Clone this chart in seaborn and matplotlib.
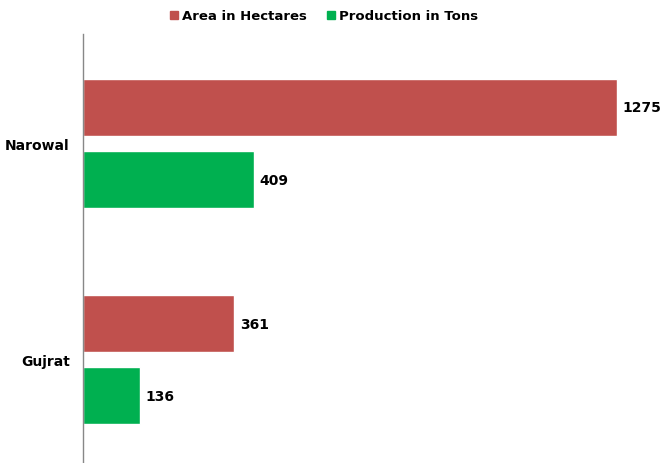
import matplotlib
matplotlib.use("Agg")
import matplotlib.pyplot as plt
from matplotlib.lines import Line2D
import seaborn as sns
import pandas as pd

districts = ["Narowal", "Gujrat"]
series = ["Area in Hectares", "Production in Tons"]
area = [1275, 361]
production = [409, 136]
colors = ["#C0504D", "#00B050"]

df = pd.DataFrame({
    "District": districts * 2,
    "Series": [series[0]] * 2 + [series[1]] * 2,
    "Value": area + production,
})

sns.set_style("white")
plt.rcParams["font.family"] = ["DejaVu Sans"]
plt.rcParams["text.color"] = "black"
plt.rcParams["ytick.color"] = "black"

fig = plt.figure(figsize=(6.61, 4.64), dpi=100)
ax = fig.add_axes([83 / 661, 0, 578 / 661, (464 - 35) / 464])

sns.barplot(data=df, y="District", x="Value", hue="Series", order=districts,
            hue_order=series, palette=colors, orient="h", width=0.667,
            gap=0.208, ax=ax, legend=False, saturation=1)

for c in ax.containers:
    ax.bar_label(c, fmt="%d", padding=4, fontweight="bold", fontsize=10,
                 color="black")

ax.set_xlim(0, 1380)
ax.set_ylim(1.479, -0.507)
ax.set_xlabel("")
ax.set_ylabel("")
ax.set_xticks([])
for s in ["top", "right", "bottom"]:
    ax.spines[s].set_visible(False)
ax.spines["left"].set_color("#888888")
ax.spines["left"].set_linewidth(1)
ax.tick_params(axis="y", length=0, pad=9.5, colors="black")
for lbl in ax.get_yticklabels():
    lbl.set_fontweight("bold")
    lbl.set_fontsize(10)

handles = [Line2D([], [], marker="s", linestyle="", markersize=6,
                  markerfacecolor=col, markeredgecolor=col) for col in colors]
fig.legend(handles, series, loc="center", bbox_to_anchor=(0.487, 1 - 17 / 464),
           ncol=2, frameon=False, prop={"weight": "bold", "size": 9.5},
           handletextpad=0.0, columnspacing=1.2, handlelength=1.2)

fig.savefig("out.png", dpi=100)
